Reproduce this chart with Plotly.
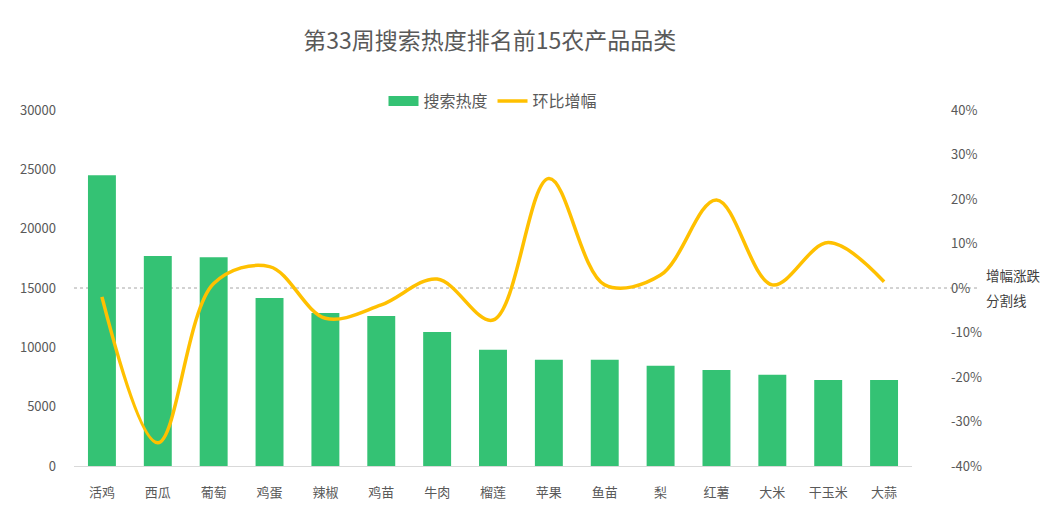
import plotly.graph_objects as go

categories = ["活鸡", "西瓜", "葡萄", "鸡蛋", "辣椒", "鸡苗", "牛肉", "榴莲", "苹果", "鱼苗", "梨", "红薯", "大米", "干玉米", "大蒜"]
search_heat = [24500, 17700, 17600, 14150, 12900, 12650, 11300, 9800, 8950, 8950, 8450, 8100, 7700, 7250, 7250]
wow_change = [-0.02, -0.348, 0.01, 0.048, -0.068, -0.038, 0.02, -0.072, 0.246, 0.007, 0.029, 0.198, 0.007, 0.102, 0.014]

left_ticks = [0, 5000, 10000, 15000, 20000, 25000, 30000]
left_text = ["0", "5000", "10000", "15000", "20000", "25000", "30000"]
right_ticks = [-0.4, -0.3, -0.2, -0.1, 0, 0.1, 0.2, 0.3, 0.4]
right_text = ["-40%", "-30%", "-20%", "-10%", "0%", "10%", "20%", "30%", "40%"]

FONT = "Noto Sans CJK SC"
GREY = "#595959"
GREEN = "#34C274"

fig = go.Figure()
fig.add_trace(go.Bar(
    x=categories, y=search_heat, name="搜索热度", showlegend=False, legendgroup="heat",
    marker=dict(color=GREEN, line=dict(width=0)),
))
# legend entry styled as a wide rectangle
fig.add_trace(go.Scatter(
    x=[None], y=[None], name="搜索热度", mode="lines", legendgroup="heat",
    line=dict(color=GREEN, width=10),
))
fig.add_trace(go.Scatter(
    x=categories, y=wow_change, name="环比增幅", yaxis="y2",
    mode="lines", line=dict(color="#FFC000", width=3.5, shape="spline", smoothing=1.0),
))

fig.add_shape(type="line", xref="paper", yref="y2", x0=0, x1=1.079, y0=0, y1=0,
              line=dict(color="#A6A6A6", width=1, dash="dot"), layer="below")

fig.add_annotation(text="增幅涨跌", xref="paper", yref="paper", x=1.086, y=0.537,
                   xanchor="left", yanchor="middle", showarrow=False,
                   font=dict(family=FONT, size=13.5, color="#404040"))
fig.add_annotation(text="分割线", xref="paper", yref="paper", x=1.086, y=0.466,
                   xanchor="left", yanchor="middle", showarrow=False,
                   font=dict(family=FONT, size=13.5, color="#404040"))

fig.update_layout(
    width=1052, height=528,
    margin=dict(l=64, r=148, t=102, b=70),
    paper_bgcolor="white", plot_bgcolor="white",
    font=dict(family=FONT, size=13, color=GREY),
    title=dict(text="第33周搜索热度排名前15农产品品类", x=0.458, xanchor="center",
               y=0.937, yanchor="middle",
               font=dict(family=FONT, size=23, color=GREY)),
    bargap=0.5,
    showlegend=True,
    legend=dict(orientation="h", x=0.5, xanchor="center", y=1.025, yanchor="middle",
                font=dict(family=FONT, size=16, color=GREY), itemwidth=30,
                bgcolor="rgba(0,0,0,0)"),
    xaxis=dict(showgrid=False, showline=True, linecolor="#D9D9D9", linewidth=1,
               ticks="", tickfont=dict(size=13, color=GREY), ticklabelstandoff=14),
    yaxis=dict(range=[0, 30000], tickvals=left_ticks, ticktext=left_text, showgrid=False,
               zeroline=False, showline=False, ticks="", tickfont=dict(size=13, color=GREY),
               ticklabelstandoff=17),
    yaxis2=dict(range=[-0.4, 0.4], overlaying="y", side="right", tickvals=right_ticks,
                ticktext=right_text, showgrid=False, zeroline=False, showline=False,
                ticks="", tickfont=dict(size=13, color=GREY), ticklabelstandoff=38),
)

fig.write_html("out.html")
